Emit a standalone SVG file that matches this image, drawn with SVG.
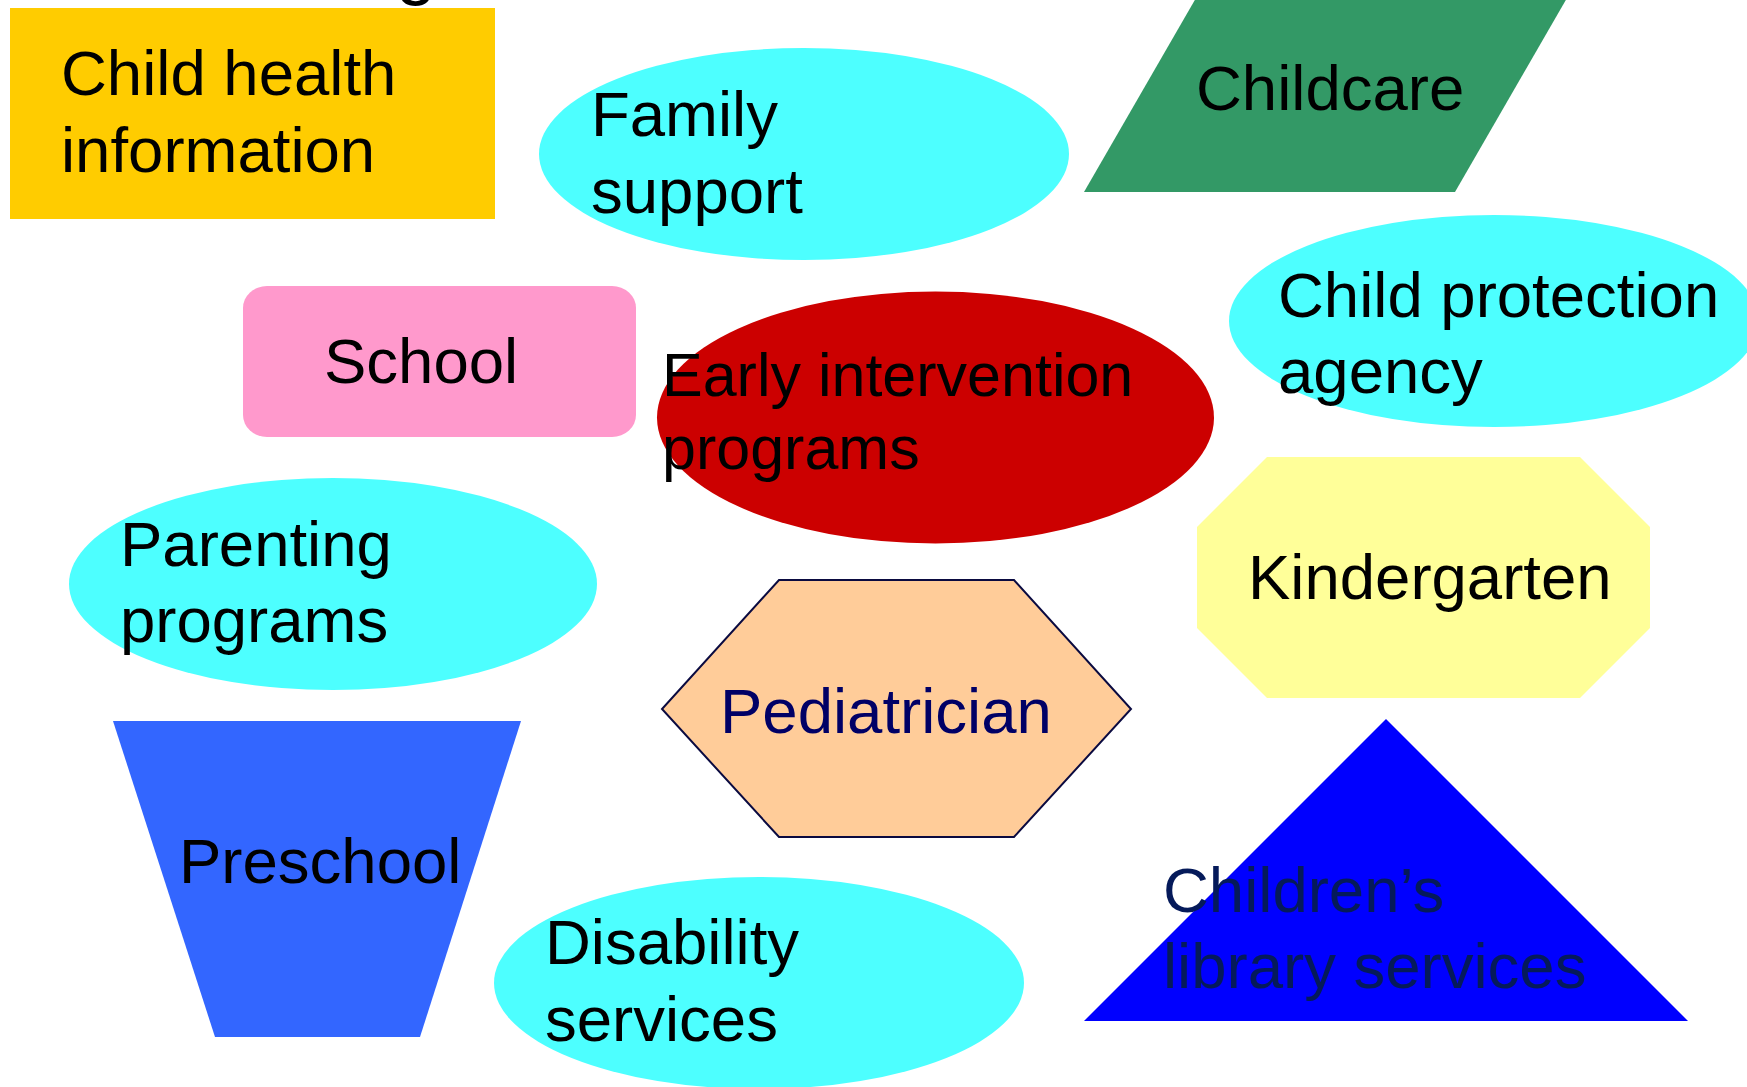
<svg xmlns="http://www.w3.org/2000/svg" width="1747" height="1087" viewBox="0 0 1747 1087">
<style>
  text { font-family: "Liberation Sans", Arial, sans-serif; font-size: 63.5px; fill: #000000; }
  .cyan { fill: #4DFFFF; }
</style>
<rect x="0" y="0" width="1747" height="1087" fill="#FFFFFF"/>
<text x="396" y="-9" style="font-size:72px">g</text>
<g id="connectors"/>
<g id="child-health">
  <rect x="10" y="8" width="485" height="211" fill="#FFCC00"/>
  <text x="61" y="95">Child health</text>
  <text x="61" y="172">information</text>
</g>
<g id="family-support">
  <ellipse class="cyan" cx="804" cy="154" rx="265" ry="106"/>
  <text x="591" y="136">Family</text>
  <text x="591" y="213">support</text>
</g>
<g id="childcare">
  <polygon points="1196,-2 1567,-2 1455,192 1084,192" fill="#339966"/>
  <text x="1196" y="110">Childcare</text>
</g>
<g id="child-protection">
  <ellipse class="cyan" cx="1494" cy="321" rx="265" ry="106"/>
  <text x="1278" y="317">Child protection</text>
  <text x="1278" y="393">agency</text>
</g>
<g id="school">
  <rect x="243" y="286" width="393" height="151" rx="24" ry="22" fill="#FF99CC"/>
  <text x="324" y="383">School</text>
</g>
<g id="early-intervention">
  <ellipse cx="935.5" cy="417.5" rx="278.5" ry="126" fill="#CC0000"/>
  <text x="662" y="396" style="font-size:61px">Early intervention</text>
  <text x="662" y="469" style="font-size:61px">programs</text>
</g>
<g id="parenting">
  <ellipse class="cyan" cx="333" cy="584" rx="264" ry="106"/>
  <text x="120" y="566">Parenting</text>
  <text x="120" y="642">programs</text>
</g>
<g id="kindergarten">
  <polygon points="1267,457 1580,457 1650,527 1650,628 1580,698 1267,698 1197,628 1197,527" fill="#FFFF99"/>
  <text x="1248" y="599">Kindergarten</text>
</g>
<g id="pediatrician">
  <polygon points="779,580 1014,580 1131,709 1014,837 779,837 662,709" fill="#FFCC99" stroke="#0A0A40" stroke-width="2"/>
  <text x="720" y="733" style="fill:#000066">Pediatrician</text>
</g>
<g id="preschool">
  <polygon points="113,721 521,721 420,1037 215,1037" fill="#3366FF"/>
  <text x="179" y="883">Preschool</text>
</g>
<g id="disability">
  <ellipse class="cyan" cx="759" cy="983" rx="265" ry="106"/>
  <text x="545" y="964">Disability</text>
  <text x="545" y="1041">services</text>
</g>
<g id="library">
  <polygon points="1386,719 1688,1021 1084,1021" fill="#0000FF"/>
  <text x="1163" y="912" style="fill:#051A5A">Children’s</text>
  <text x="1163" y="988" style="fill:#051A5A">library services</text>
</g>
</svg>
